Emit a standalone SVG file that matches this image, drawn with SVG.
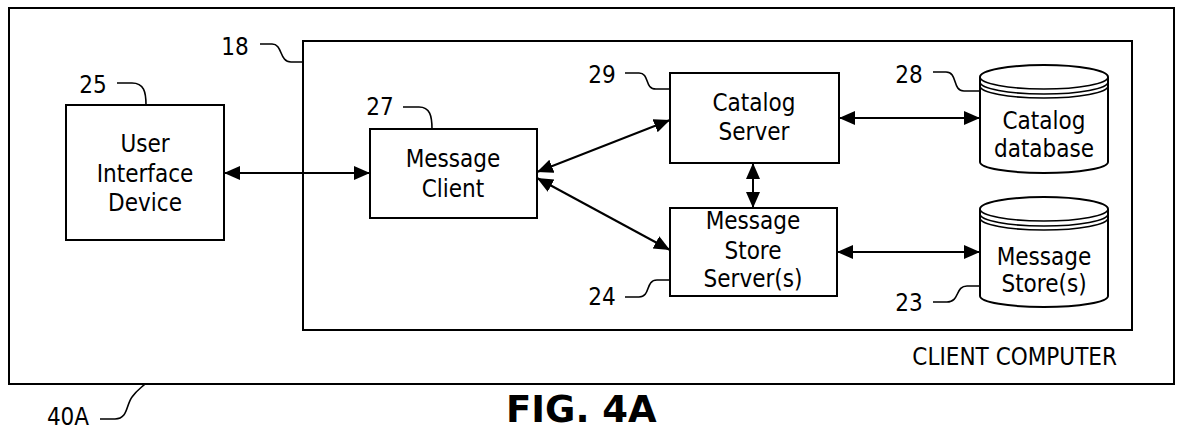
<svg xmlns="http://www.w3.org/2000/svg" width="1177" height="432" viewBox="0 0 1177 432">
<style>
.box{fill:#fff;stroke:#000;stroke-width:2}
.frame{fill:none;stroke:#000;stroke-width:2}
.lead{fill:none;stroke:#000;stroke-width:1.6}
.conn{fill:none;stroke:#000;stroke-width:2;marker-start:url(#ah);marker-end:url(#ah)}
text{font-family:"DejaVu Sans Condensed","DejaVu Sans",Verdana,sans-serif;font-size:24px;fill:#000}
.c{text-anchor:middle}
.fig{font-family:"DejaVu Sans",Verdana,sans-serif;font-weight:bold;font-size:37px}
</style>
<defs>
<marker id="ah" markerUnits="userSpaceOnUse" markerWidth="17" markerHeight="15" refX="16" refY="7" orient="auto-start-reverse">
<path d="M0,0 L16,7 L0,14 z" fill="#000"/>
</marker>
</defs>
<g id="client-computer">
<rect class="frame" x="9" y="8" width="1165" height="376"/>
<text x="1117" y="365" text-anchor="end">CLIENT COMPUTER</text>
<path class="lead" d="M100,419 L115,419 C128,419 126,405 132,397 C137,390 142,387 145,384"/>
<text class="c" x="68" y="425">40A</text>
</g>
<g id="box-18">
<rect class="frame" x="303" y="41" width="829" height="289"/>
<path class="lead" d="M260,44 L272,44 C283,44 279,62 291,62 L303,62"/>
<text class="c" x="235" y="55">18</text>
</g>
<g id="user-interface-device">
<rect class="box" x="66" y="105" width="158" height="135"/>
<text class="c" x="145" y="152">User</text>
<text class="c" x="145" y="182">Interface</text>
<text class="c" x="145" y="211">Device</text>
<path class="lead" d="M117,83 L132,83 C144,83 146,92 146,105"/>
<text class="c" x="93" y="93">25</text>
</g>
<g id="message-client">
<rect class="box" x="370" y="129" width="167" height="89"/>
<text class="c" x="453" y="167">Message</text>
<text class="c" x="453" y="197">Client</text>
<path class="lead" d="M403,107 L419,107 C430,107 432,116 432,129"/>
<text class="c" x="380" y="115">27</text>
</g>
<g id="catalog-server">
<rect class="box" x="670" y="73" width="169" height="90"/>
<text class="c" x="754" y="111">Catalog</text>
<text class="c" x="754" y="140">Server</text>
<path class="lead" d="M625,73 L639,73 C650,73 644,89 656,89 L670,89"/>
<text class="c" x="602" y="83">29</text>
</g>
<g id="message-store-server">
<rect class="box" x="670" y="208" width="167" height="88"/>
<text class="c" x="753" y="229">Message</text>
<text class="c" x="753" y="259">Store</text>
<text class="c" x="753" y="287">Server(s)</text>
<path class="lead" d="M625,297 L639,297 C651,297 645,280 657,280 L670,280"/>
<text class="c" x="602" y="305">24</text>
</g>
<g id="catalog-database">
<path class="box" d="M980,77 L980,162 A64,11 0 0 0 1108,162 L1108,77 A64,12 0 0 0 980,77 Z"/>
<path class="lead" d="M980,77 A64,12 0 0 0 1108,77 M980,82 A64,12 0 0 0 1108,82 M980,86 A64,12 0 0 0 1108,86"/>
<text class="c" x="1044" y="129">Catalog</text>
<text class="c" x="1044" y="157">database</text>
<path class="lead" d="M933,72 L946,72 C958,72 952,91 964,91 L980,91"/>
<text class="c" x="909" y="83">28</text>
</g>
<g id="message-stores">
<path class="box" d="M980,209 L980,296 A64,11 0 0 0 1108,296 L1108,209 A64,12 0 0 0 980,209 Z"/>
<path class="lead" d="M980,209 A64,12 0 0 0 1108,209 M980,214 A64,12 0 0 0 1108,214 M980,218 A64,12 0 0 0 1108,218"/>
<text class="c" x="1044" y="265">Message</text>
<text class="c" x="1044" y="292">Store(s)</text>
<path class="lead" d="M933,302 L947,302 C960,302 955,286 967,286 L980,286"/>
<text class="c" x="909" y="311">23</text>
</g>
<g id="connectors">
<line class="conn" x1="224" y1="173" x2="370" y2="173"/>
<line class="conn" x1="537" y1="172" x2="670" y2="120"/>
<line class="conn" x1="537" y1="178" x2="670" y2="250"/>
<line class="conn" x1="753" y1="163" x2="753" y2="208"/>
<line class="conn" x1="839" y1="118" x2="980" y2="118"/>
<line class="conn" x1="837" y1="252" x2="980" y2="252"/>
</g>
<text class="fig" x="506" y="422">FIG. 4A</text>
</svg>
